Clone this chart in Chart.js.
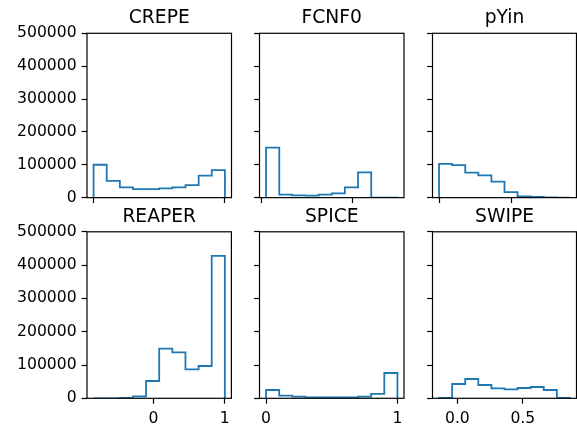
<!DOCTYPE html>
<html>
<head>
<meta charset="utf-8">
<script src="https://cdn.jsdelivr.net/npm/chart.js@4.4.0/dist/chart.umd.min.js"></script>
<style>
  body { margin: 0; background: #fff; }
  #fig { position: relative; width: 577px; height: 426px; overflow: hidden; }
  #fig canvas { position: absolute; }
</style>
</head>
<body>
<div id="fig"></div>
<script>
// ========== DATA ==========
const titles = ["CREPE", "FCNF0", "pYin", "REAPER", "SPICE", "SWIPE"];

// bin edges (10 bins each)
const crepeEdges = [0, 0.1, 0.2, 0.3, 0.4, 0.5, 0.6, 0.7, 0.8, 0.9, 1.0];
const fcnf0Edges = [0.024, 0.097, 0.169, 0.242, 0.315, 0.388, 0.46, 0.533, 0.606, 0.678, 0.751];
const pyinEdges = [0, 0.09, 0.18, 0.27, 0.36, 0.45, 0.54, 0.63, 0.72, 0.81, 0.9];
const reaperEdges = [-0.84, -0.656, -0.472, -0.288, -0.104, 0.08, 0.264, 0.448, 0.632, 0.816, 1.0];
const spiceEdges = [0, 0.1, 0.2, 0.3, 0.4, 0.5, 0.6, 0.7, 0.8, 0.9, 1.0];
const swipeEdges = [-0.14, -0.04, 0.06, 0.16, 0.26, 0.36, 0.46, 0.56, 0.66, 0.76, 0.86];

// counts per bin
const crepeCounts = [100000, 51000, 31000, 26000, 26000, 28000, 31000, 38000, 67000, 84000];
const fcnf0Counts = [152000, 9000, 7000, 6000, 9000, 13000, 31000, 77000, 0, 0];
const pyinCounts = [103000, 99000, 76000, 68000, 49000, 17000, 4000, 2000, 1000, 0];
const reaperCounts = [0, 0, 1000, 6000, 52000, 149000, 138000, 87000, 97000, 428000];
const spiceCounts = [25000, 8000, 5000, 3000, 3000, 3000, 3000, 5000, 13000, 76000];
const swipeCounts = [1000, 43000, 58000, 40000, 30000, 27000, 31000, 34000, 25000, 1000];

// tick positions / labels
const yTicks = [0, 100000, 200000, 300000, 400000, 500000];
const crepeXTicks = [0, 1];
const fcnf0XTicks = [0, 0.5];
const pyinXTicks = [0, 0.5];
const reaperXTicks = [0, 1];
const spiceXTicks = [0, 1];
const swipeXTicks = [0, 0.5];
const reaperXLabels = ["0", "1"];
const spiceXLabels = ["0", "1"];
const swipeXLabels = ["0.0", "0.5"];

// ========== LAYOUT ==========
const FONT = "'DejaVu Sans', sans-serif";
const cols = [
  { left: 0, width: 236, yw: 87, pr: 4.5 },
  { left: 240, width: 170, yw: 19.5, pr: 6 },
  { left: 413, width: 164, yw: 19.5, pr: 0.5 },
];
// pt = space above axes, ty = title centre from canvas top
const rows = [
  { top: 0, height: 212, xh: 12.7, pt: 33.3, ty: 18.3 },
  { top: 202, height: 224, xh: 27.7, pt: 29.8, ty: 15.5 },
];

const panels = [
  { edges: crepeEdges, counts: crepeCounts, xt: crepeXTicks, xl: null },
  { edges: fcnf0Edges, counts: fcnf0Counts, xt: fcnf0XTicks, xl: null },
  { edges: pyinEdges, counts: pyinCounts, xt: pyinXTicks, xl: null },
  { edges: reaperEdges, counts: reaperCounts, xt: reaperXTicks, xl: reaperXLabels },
  { edges: spiceEdges, counts: spiceCounts, xt: spiceXTicks, xl: spiceXLabels },
  { edges: swipeEdges, counts: swipeCounts, xt: swipeXTicks, xl: swipeXLabels },
];

// all four spines, drawn over the histogram like matplotlib, plus the title centred on the axes
const spines = {
  id: "spines",
  afterDatasetsDraw(chart, args, opts) {
    const a = chart.chartArea, ctx = chart.ctx;
    ctx.save();
    ctx.strokeStyle = "#000";
    ctx.lineWidth = 1.2;
    ctx.strokeRect(a.left, a.top, a.right - a.left, a.bottom - a.top);
    ctx.fillStyle = "#000";
    ctx.font = "18.7px " + FONT;
    ctx.textAlign = "center";
    ctx.textBaseline = "middle";
    ctx.fillText(opts.text, (a.left + a.right) / 2, opts.y);
    ctx.restore();
  },
};

function stepPoints(edges, counts) {
  const pts = [{ x: edges[0], y: 0 }];
  counts.forEach((c, i) => pts.push({ x: edges[i], y: c }));
  pts.push({ x: edges[edges.length - 1], y: 0 });
  return pts;
}

const fig = document.getElementById("fig");

panels.forEach((p, i) => {
  const col = cols[i % 3];
  const row = rows[Math.floor(i / 3)];
  const canvas = document.createElement("canvas");
  canvas.width = col.width;
  canvas.height = row.height;
  canvas.style.left = col.left + "px";
  canvas.style.top = row.top + "px";
  canvas.style.width = col.width + "px";
  canvas.style.height = row.height + "px";
  fig.appendChild(canvas);

  const lo = p.edges[0], hi = p.edges[p.edges.length - 1];
  const pad = 0.05 * (hi - lo);

  new Chart(canvas, {
    type: "line",
    data: {
      datasets: [{
        data: stepPoints(p.edges, p.counts),
        stepped: true,
        borderColor: "#1f77b4",
        borderWidth: 1.8,
        pointRadius: 0,
        fill: false,
      }],
    },
    options: {
      responsive: false,
      animation: false,
      devicePixelRatio: 1,
      layout: { padding: { left: 0, right: col.pr, top: row.pt, bottom: 0 } },
      plugins: {
        legend: { display: false },
        tooltip: { enabled: false },
        title: { display: false },
        spines: { text: titles[i], y: row.ty },
      },
      scales: {
        x: {
          type: "linear",
          min: lo - pad,
          max: hi + pad,
          afterBuildTicks: (s) => { s.ticks = p.xt.map((v) => ({ value: v })); },
          afterFit: (s) => { s.height = row.xh; },
          grid: { drawOnChartArea: false, drawTicks: true, tickLength: 5.4, tickWidth: 1.2, tickColor: "#000" },
          border: { display: false },
          ticks: {
            autoSkip: false,
            maxRotation: 0,
            padding: 6,
            color: "#000",
            font: { family: FONT, size: 15.6 },
            callback: (v, idx) => (p.xl ? p.xl[idx] : ""),
          },
        },
        y: {
          min: 0,
          max: 500000,
          afterBuildTicks: (s) => { s.ticks = yTicks.map((v) => ({ value: v })); },
          afterFit: (s) => { s.width = col.yw; },
          grid: { drawOnChartArea: false, drawTicks: true, tickLength: 5.4, tickWidth: 1.2, tickColor: "#000" },
          border: { display: false },
          ticks: {
            padding: 5,
            color: "#000",
            font: { family: FONT, size: 15.6 },
            callback: (v) => (i % 3 === 0 ? String(v) : ""),
          },
        },
      },
    },
    plugins: [spines],
  });
});
</script>
</body>
</html>
